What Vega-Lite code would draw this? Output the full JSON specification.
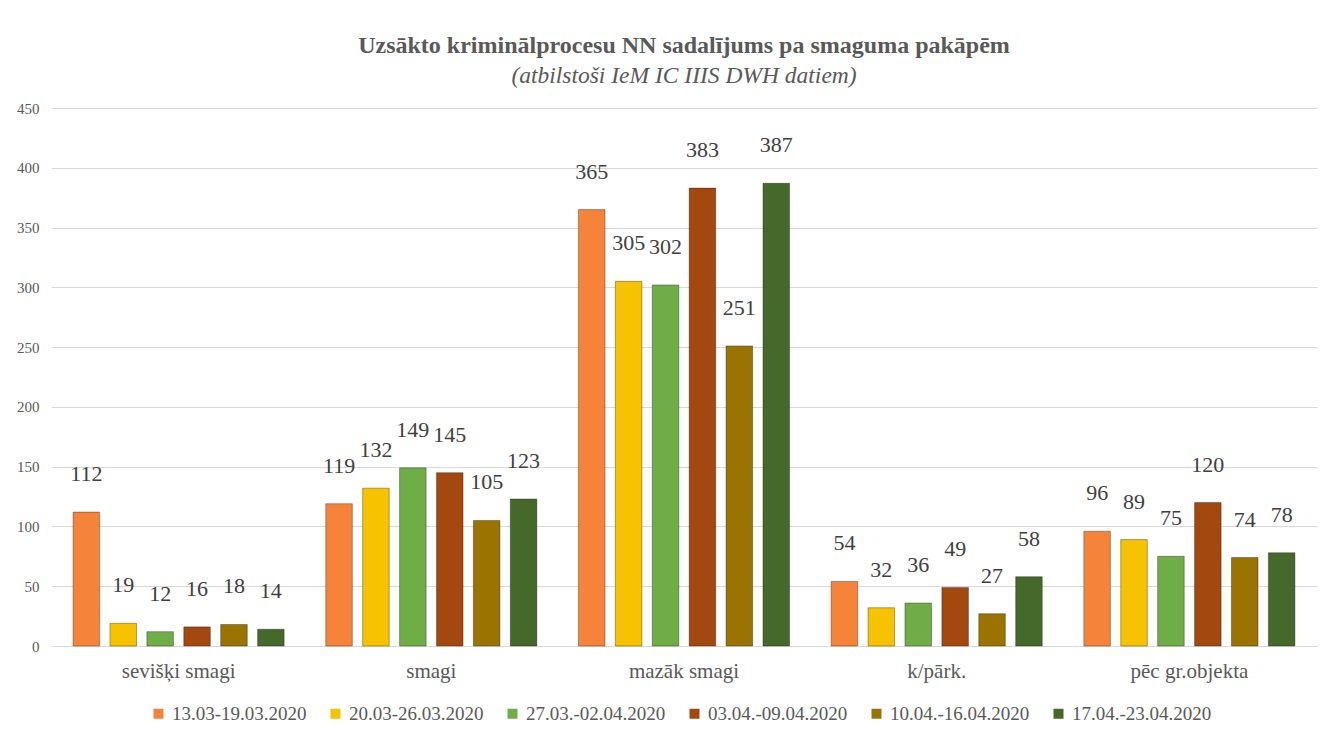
{
  "$schema": "https://vega.github.io/schema/vega-lite/v6.json",
  "width": 1325,
  "height": 731,
  "autosize": {"type": "fit", "contains": "padding"},
  "padding": {"left": 16, "top": 33, "right": 8, "bottom": 50},
  "background": "white",
  "title": {
    "text": "Uzsākto kriminālprocesu NN sadalījums pa smaguma pakāpēm",
    "subtitle": "(atbilstoši IeM IC IIIS DWH datiem)",
    "font": "Liberation Serif, DejaVu Serif, serif",
    "fontSize": 24,
    "fontWeight": "bold",
    "color": "#595959",
    "subtitleFont": "Liberation Serif, DejaVu Serif, serif",
    "subtitleFontSize": 23.5,
    "subtitleFontStyle": "italic",
    "subtitleColor": "#595959",
    "subtitlePadding": 6,
    "anchor": "middle",
    "offset": 14
  },
  "data": {
    "values": [
      {"cat": "sevišķi smagi", "period": "13.03-19.03.2020", "value": 112},
      {"cat": "sevišķi smagi", "period": "20.03-26.03.2020", "value": 19},
      {"cat": "sevišķi smagi", "period": "27.03.-02.04.2020", "value": 12},
      {"cat": "sevišķi smagi", "period": "03.04.-09.04.2020", "value": 16},
      {"cat": "sevišķi smagi", "period": "10.04.-16.04.2020", "value": 18},
      {"cat": "sevišķi smagi", "period": "17.04.-23.04.2020", "value": 14},
      {"cat": "smagi", "period": "13.03-19.03.2020", "value": 119},
      {"cat": "smagi", "period": "20.03-26.03.2020", "value": 132},
      {"cat": "smagi", "period": "27.03.-02.04.2020", "value": 149},
      {"cat": "smagi", "period": "03.04.-09.04.2020", "value": 145},
      {"cat": "smagi", "period": "10.04.-16.04.2020", "value": 105},
      {"cat": "smagi", "period": "17.04.-23.04.2020", "value": 123},
      {"cat": "mazāk smagi", "period": "13.03-19.03.2020", "value": 365},
      {"cat": "mazāk smagi", "period": "20.03-26.03.2020", "value": 305},
      {"cat": "mazāk smagi", "period": "27.03.-02.04.2020", "value": 302},
      {"cat": "mazāk smagi", "period": "03.04.-09.04.2020", "value": 383},
      {"cat": "mazāk smagi", "period": "10.04.-16.04.2020", "value": 251},
      {"cat": "mazāk smagi", "period": "17.04.-23.04.2020", "value": 387},
      {"cat": "k/pārk.", "period": "13.03-19.03.2020", "value": 54},
      {"cat": "k/pārk.", "period": "20.03-26.03.2020", "value": 32},
      {"cat": "k/pārk.", "period": "27.03.-02.04.2020", "value": 36},
      {"cat": "k/pārk.", "period": "03.04.-09.04.2020", "value": 49},
      {"cat": "k/pārk.", "period": "10.04.-16.04.2020", "value": 27},
      {"cat": "k/pārk.", "period": "17.04.-23.04.2020", "value": 58},
      {"cat": "pēc gr.objekta", "period": "13.03-19.03.2020", "value": 96},
      {"cat": "pēc gr.objekta", "period": "20.03-26.03.2020", "value": 89},
      {"cat": "pēc gr.objekta", "period": "27.03.-02.04.2020", "value": 75},
      {"cat": "pēc gr.objekta", "period": "03.04.-09.04.2020", "value": 120},
      {"cat": "pēc gr.objekta", "period": "10.04.-16.04.2020", "value": 74},
      {"cat": "pēc gr.objekta", "period": "17.04.-23.04.2020", "value": 78}
    ]
  },
  "encoding": {
    "x": {
      "field": "cat",
      "type": "nominal",
      "sort": null,
      "scale": {"paddingInner": 0.15, "paddingOuter": 0.08},
      "axis": {
        "title": null,
        "labelAngle": 0,
        "labelFont": "Liberation Serif, DejaVu Serif, serif",
        "labelFontSize": 21,
        "labelColor": "#595959",
        "labelPadding": 14,
        "ticks": false,
        "domainColor": "#D9D9D9",
        "domainWidth": 1
      }
    },
    "xOffset": {
      "field": "period",
      "type": "nominal",
      "sort": null,
      "scale": {"paddingInner": 0.28, "paddingOuter": 0.05}
    },
    "y": {
      "field": "value",
      "type": "quantitative",
      "scale": {"domain": [0, 450]},
      "axis": {
        "title": null,
        "values": [0, 50, 100, 150, 200, 250, 300, 350, 400, 450],
        "labelFont": "Liberation Serif, DejaVu Serif, serif",
        "labelFontSize": 15,
        "labelColor": "#595959",
        "labelPadding": 12,
        "ticks": false,
        "domain": false,
        "gridColor": "#D9D9D9",
        "gridWidth": 1
      }
    }
  },
  "layer": [
    {
      "mark": {"type": "bar", "stroke": "#00000050", "strokeWidth": 1},
      "encoding": {
        "color": {
          "field": "period",
          "type": "nominal",
          "sort": null,
          "scale": {
            "domain": ["13.03-19.03.2020", "20.03-26.03.2020", "27.03.-02.04.2020", "03.04.-09.04.2020", "10.04.-16.04.2020", "17.04.-23.04.2020"],
            "range": ["#F5843A", "#F7C200", "#6FAD47", "#A3480F", "#9A7300", "#44692B"]
          },
          "legend": {
            "title": null,
            "orient": "none",
            "legendX": 98,
            "legendY": 596,
            "direction": "horizontal",
            "symbolType": "square",
            "symbolSize": 100,
            "symbolStrokeWidth": 0,
            "labelFont": "Liberation Serif, DejaVu Serif, serif",
            "labelFontSize": 19,
            "labelColor": "#595959",
            "columnPadding": 19,
            "labelOffset": 4
          }
        }
      }
    },
    {
      "mark": {
        "type": "text",
        "baseline": "bottom",
        "dy": -26,
        "font": "Liberation Serif, DejaVu Serif, serif",
        "fontSize": 22,
        "color": "#404040"
      },
      "encoding": {
        "text": {"field": "value", "type": "quantitative"}
      }
    }
  ],
  "config": {
    "view": {"stroke": null}
  }
}
